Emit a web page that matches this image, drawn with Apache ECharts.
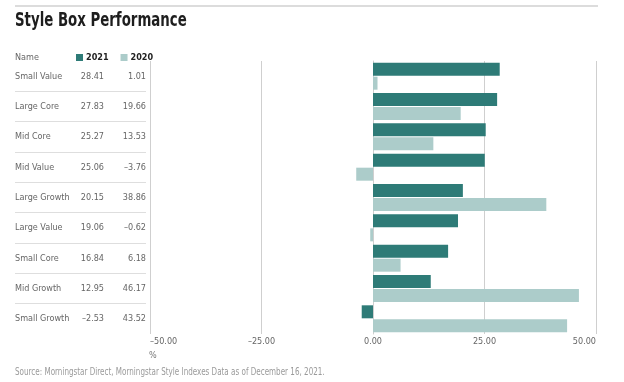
<!DOCTYPE html>
<html>
<head>
<meta charset="utf-8">
<script src="https://cdn.jsdelivr.net/npm/echarts@6/dist/echarts.min.js"></script>
<style>html,body{margin:0;padding:0;background:#fff}#c{width:624px;height:382px}</style>
</head>
<body>
<div id="c"></div>
<script>
const categories = ['Small Value','Large Core','Mid Core','Mid Value','Large Growth','Large Value','Small Core','Mid Growth','Small Growth'];
const values2021 = [28.41,27.83,25.27,25.06,20.15,19.06,16.84,12.95,-2.53];
const values2020 = [1.01,19.66,13.53,-3.76,38.86,-0.62,6.18,46.17,43.52];
const seriesNames = ['2021','2020'];
const xTicks = [-50,-25,0,25,50];

const FONT = "'Liberation Sans Narrow','DejaVu Sans Condensed',sans-serif";
const DARK = '#2e7b77';
const LIGHT = '#acccca';
const fmt = v => (v < 0 ? '\u2013' : '') + Math.abs(v).toFixed(2);

const chart = echarts.init(document.getElementById('c'), null, {renderer:'canvas'});
chart.setOption({
  animation:false,
  textStyle:{fontFamily:FONT},
  title:[
    {text:'Name', left:15, top:53, padding:0, textStyle:{fontFamily:FONT, fontSize:9, fontWeight:'normal', color:'#666'}},
    {text:'%', left:149, top:351, padding:0, textStyle:{fontFamily:FONT, fontSize:9, fontWeight:'normal', color:'#777'}}
  ],
  graphic:[
    {type:'line', shape:{x1:15,y1:6,x2:598,y2:6}, style:{stroke:'#dcdcdc', lineWidth:2}},
    {type:'text', x:15, y:12, scaleX:0.78, style:{text:'Style Box Performance', font:"bold 19px 'DejaVu Sans Condensed', sans-serif", fill:'#1e1e1e', textVerticalAlign:'top'}},
    {type:'text', x:15, y:367, scaleX:0.8, style:{text:'Source: Morningstar Direct, Morningstar Style Indexes Data as of December 16, 2021.', font:"10px 'DejaVu Sans Condensed', sans-serif", fill:'#9a9a9a', textVerticalAlign:'top'}}
  ],
  legend:{
    data:seriesNames, left:76, top:53, padding:0, icon:'rect', itemWidth:7, itemHeight:7, itemGap:12,
    textStyle:{fontFamily:FONT, fontSize:9, fontWeight:'bold', color:'#222', padding:[0,0,0,-2]}
  },
  grid:[
    {left:150, right:28, top:61, height:273},
    {left:15, width:131, top:61, height:273}
  ],
  xAxis:[
    {type:'value', gridIndex:0, min:-50, max:50, interval:25,
     axisLine:{show:false}, axisTick:{show:false},
     axisLabel:{formatter:fmt, color:'#666', fontSize:9, margin:3, fontFamily:FONT, alignMinLabel:'left', alignMaxLabel:'right'},
     splitLine:{show:true, lineStyle:{color:['#cfcfcf','#cfcfcf','rgba(0,0,0,0)','#cfcfcf','#cfcfcf'], width:1}}},
    {type:'value', gridIndex:1, show:false}
  ],
  yAxis:[
    {type:'category', gridIndex:0, data:categories, inverse:true, position:'left',
     axisLine:{show:true, lineStyle:{color:'#cfcfcf'}}, axisTick:{show:false},
     axisLabel:{align:'left', margin:135, color:'#666', fontSize:9, fontFamily:FONT}},
    {type:'category', gridIndex:0, data:categories, inverse:true, position:'left',
     axisLine:{show:false}, axisTick:{show:false},
     axisLabel:{align:'right', margin:46, color:'#666', fontSize:9, fontFamily:FONT,
       formatter:(v,i)=>fmt(values2021[i])}},
    {type:'category', gridIndex:0, data:categories, inverse:true, position:'left',
     axisLine:{show:false}, axisTick:{show:false},
     axisLabel:{align:'right', margin:4, color:'#666', fontSize:9, fontFamily:FONT,
       formatter:(v,i)=>fmt(values2020[i])}},
    {type:'category', gridIndex:1, data:categories, inverse:true,
     axisLine:{show:false}, axisTick:{show:false}, axisLabel:{show:false},
     splitLine:{show:true, interval:0, showMinLine:false, showMaxLine:false, lineStyle:{color:'#dedede', width:1}}}
  ],
  series:[
    {name:seriesNames[0], type:'bar', xAxisIndex:0, yAxisIndex:0, data:values2021, barWidth:13, barGap:'8%',
     itemStyle:{color:DARK}},
    {name:seriesNames[1], type:'bar', xAxisIndex:0, yAxisIndex:0, data:values2020, barWidth:13, barGap:'8%',
     itemStyle:{color:LIGHT}}
  ]
});
</script>
</body>
</html>
